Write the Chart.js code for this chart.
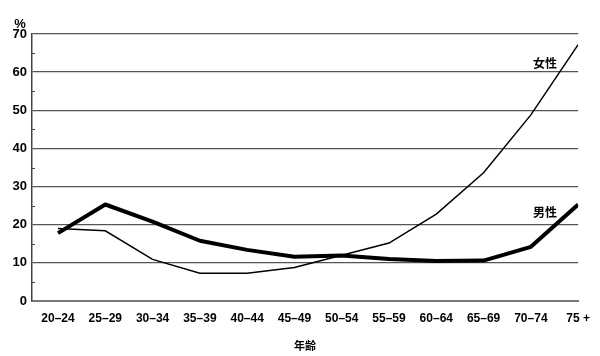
<!DOCTYPE html>
<html><head><meta charset="utf-8">
<script src="https://cdn.jsdelivr.net/npm/chart.js@4/dist/chart.umd.min.js"></script>
<style>html,body{margin:0;padding:0;background:#fff}#wrap{width:600px;height:356px}</style>
</head><body><div id="wrap"><canvas id="c" width="600" height="356"></canvas></div>
<script>
const categories = ["20–24","25–29","30–34","35–39","40–44","45–49","50–54","55–59","60–64","65–69","70–74","75 +"];
const male   = [17.8, 25.3, 20.8, 15.8, 13.4, 11.6, 11.9, 11.0, 10.5, 10.6, 14.2, 25.3];
const female = [19.0, 18.4, 10.9, 7.3, 7.3, 8.8, 12.0, 15.2, 22.8, 33.6, 48.8, 67.2];
const yTicks = [0,10,20,30,40,50,60,70];
const seriesNames = ["男性","女性"];

const FONT = "'Liberation Sans', Arial, sans-serif";

const extras = {
  id: 'extras',
  afterDraw(chart) {
    const {ctx, scales:{x,y}} = chart;
    ctx.save();
    ctx.strokeStyle = '#444'; ctx.lineWidth = 1;
    for (let v = 5; v < 70; v += 10) {
      const py = Math.round(y.getPixelForValue(v)) + 0.5;
      ctx.beginPath(); ctx.moveTo(x.left, py); ctx.lineTo(x.left + 3, py); ctx.stroke();
    }
    ctx.fillStyle = '#000';
    ctx.font = "bold 13px " + FONT;
    ctx.textAlign = 'center'; ctx.textBaseline = 'middle';
    ctx.fillText('%', x.left - 12, y.getPixelForValue(70) - 10);
    ctx.font = "bold 12px 'Noto Sans CJK JP', sans-serif";
    ctx.fillText(seriesNames[1], x.getPixelForValue(10.3), y.getPixelForValue(62.3));
    ctx.fillText(seriesNames[0], x.getPixelForValue(10.3), y.getPixelForValue(23.3));
    ctx.restore();
  }
};

new Chart(document.getElementById('c'), {
  type: 'line',
  data: {
    datasets: [
      { label: seriesNames[0], data: male.map((v,i)=>({x:i,y:v})), borderColor:'#000', borderWidth:4, pointRadius:0, tension:0, borderJoinStyle:'round' },
      { label: seriesNames[1], data: female.map((v,i)=>({x:i,y:v})), borderColor:'#000', borderWidth:1.5, pointRadius:0, tension:0 }
    ]
  },
  options: {
    responsive: false, animation: false,
    layout: { padding: { top: 34, right: 21, left: 0, bottom: 0 } },
    plugins: { legend: {display:false}, tooltip: {enabled:false} },
    scales: {
      x: {
        type: 'linear', min: -0.55, max: 11,
        afterBuildTicks(s){ s.ticks = categories.map((c,i)=>({value:i})); },
        ticks: { callback:(v)=>categories[v], color:'#000', font:{family:FONT, size:12, weight:'bold'}, padding: 10, maxRotation:0, autoSkip:false },
        grid: { display:false, drawTicks:false },
        border: { display:true, color:'#777', width:2 },
        title: { display:true, text:'年齢', color:'#000', font:{family:"'Noto Sans CJK JP', sans-serif", size:11, weight:'bold'}, padding:{top:8} },
        afterFit(s){ s.height = 55; }
      },
      y: {
        min: 0, max: 70,
        afterBuildTicks(s){ s.ticks = yTicks.map(v=>({value:v})); },
        ticks: { color:'#000', font:{family:FONT, size:13, weight:'bold'}, padding: 5 },
        grid: { color:'#555', lineWidth:1.3, drawTicks:false },
        border: { display:true, color:'#444', width:1.5 },
        afterFit(s){ s.width = 32; }
      }
    }
  },
  plugins: [extras]
});
</script></body></html>
